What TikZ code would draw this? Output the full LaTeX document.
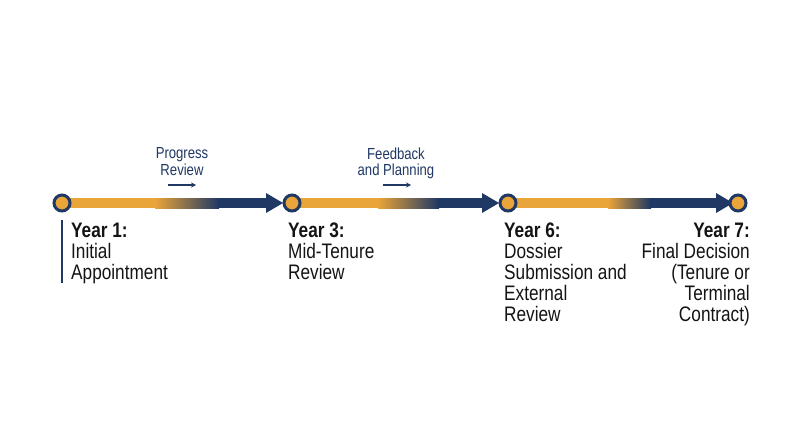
\documentclass[tikz,border=0pt]{standalone}
\usepackage{fontspec}
\setmainfont{Liberation Sans}[FakeStretch=0.82]
\newfontface\boldcond{Liberation Sans Bold}[FakeStretch=0.82]
\definecolor{navy}{HTML}{1F3864}
\definecolor{gold}{HTML}{E9A43A}
\definecolor{ink}{HTML}{141414}
\usetikzlibrary{arrows.meta}
\tikzset{
  dot/.style={circle,draw=navy,fill=gold,line width=3pt,minimum size=16pt,inner sep=0pt},
  yearlbl/.style={font=\fontsize{21}{21}\selectfont,text=ink,inner sep=0pt},
  smalllbl/.style={font=\fontsize{16}{16.5}\selectfont,text=navy,align=center,inner sep=0pt},
  smallarrow/.style={draw=navy,line width=1.2pt,-{Stealth[length=5pt,width=5pt]}}
}
\begin{document}
\begin{tikzpicture}[x=1pt,y=-1pt]
\useasboundingbox[fill=white] (0,0) rectangle (800,447);
% seg 1
\fill[gold] (62,198) rectangle (156,208);
\shade[left color=gold,right color=navy] (155,198) rectangle (219,208);
\fill[navy] (218,198) rectangle (268,208);
\fill[navy] (266,193) -- (283,203) -- (266,213) -- cycle;
% seg 2
\fill[gold] (292,198) rectangle (379,208);
\shade[left color=gold,right color=navy] (378,198) rectangle (439,208);
\fill[navy] (438,198) rectangle (484,208);
\fill[navy] (482,193) -- (499,203) -- (482,213) -- cycle;
% seg 3
\fill[gold] (508,198) rectangle (609,208);
\shade[left color=gold,right color=navy] (608,198) rectangle (651,208);
\fill[navy] (650,198) rectangle (718,208);
\fill[navy] (716,193) -- (733,203) -- (716,213) -- cycle;
% dots
\node[dot] (d1) at (62,203) {};
\node[dot] (d3) at (292,203) {};
\node[dot] (d6) at (508,203) {};
\node[dot] (d7) at (738,203) {};
% vertical bar
\fill[navy] (60.5,220) rectangle (63,283);
% year labels
\node[yearlbl,anchor=north west,align=left] (y1) at (71,223) {{\boldcond Year 1:}\\Initial\\Appointment};
\node[yearlbl,anchor=north west,align=left] (y3) at (288,223) {{\boldcond Year 3:}\\Mid-Tenure\\Review};
\node[yearlbl,anchor=north west,align=left] (y6) at (504,223) {{\boldcond Year 6:}\\Dossier\\Submission and\\External\\Review};
\node[yearlbl,anchor=north east,align=right] (y7) at (750,223) {{\boldcond Year 7:}\\Final Decision\\(Tenure or\\Terminal\\Contract)};
% small labels
\node[smalllbl,anchor=north] (p) at (182,147.5) {Progress\\Review};
\node[smalllbl,anchor=north] (f) at (396,147.5) {Feedback\\and Planning};
\coordinate (a1s) at (168,185); \coordinate (a1e) at (196,185);
\coordinate (a2s) at (383,185); \coordinate (a2e) at (411,185);
\draw[smallarrow] (a1s) -- (a1e);
\draw[smallarrow] (a2s) -- (a2e);
\end{tikzpicture}
\end{document}
